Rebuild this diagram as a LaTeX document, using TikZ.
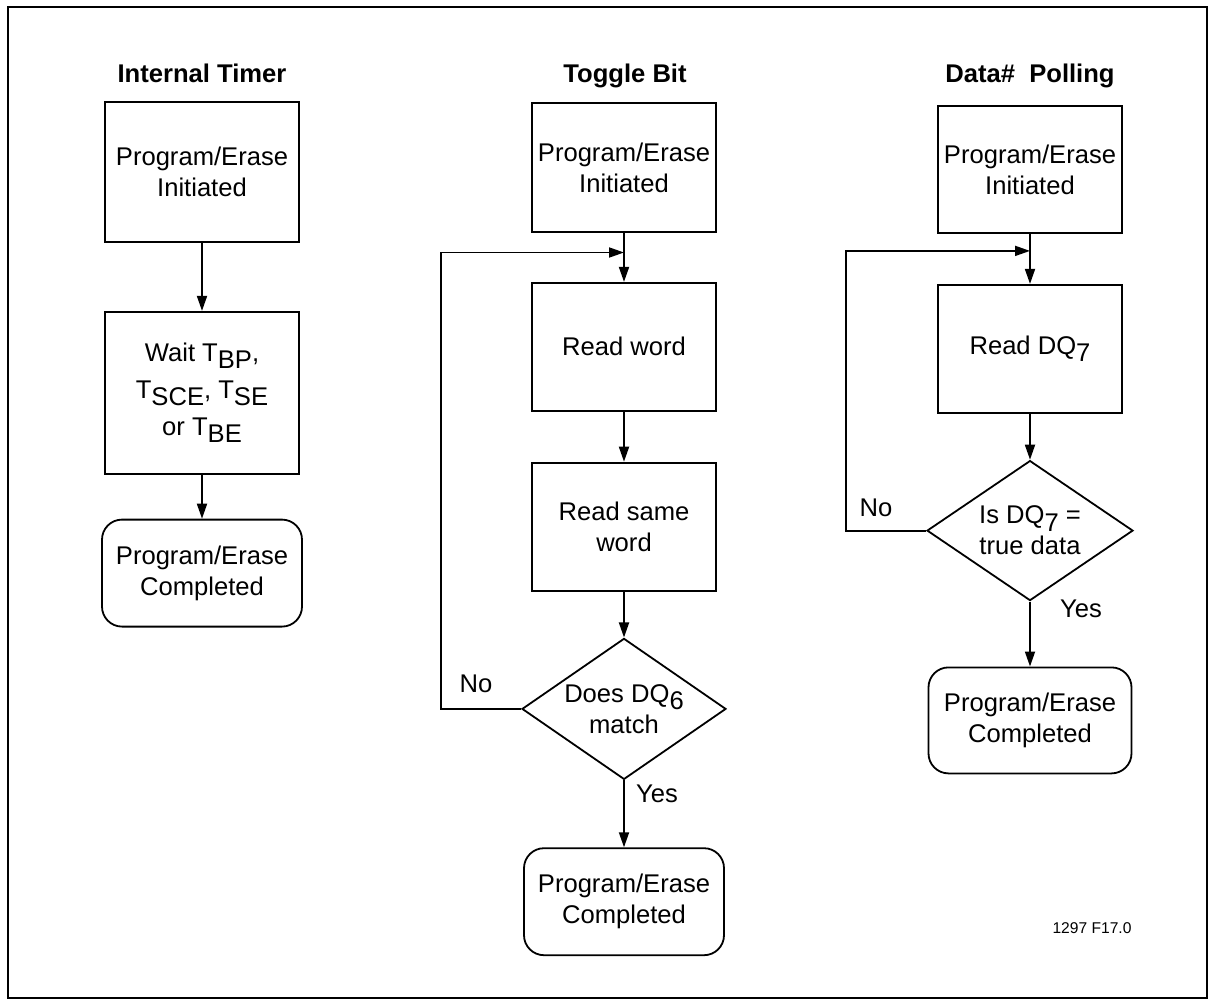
\documentclass[tikz,border=0pt]{standalone}
\usepackage{fontspec}
\setmainfont{Liberation Sans}
\usetikzlibrary{positioning, arrows.meta, calc, shapes.geometric}

\newcommand{\lsub}[1]{\raisebox{-0.3em}{#1}}

\begin{document}
\begin{tikzpicture}[
    x=1pt, y=-1pt,
    line width=1.8pt,
    >={Triangle[length=15pt, width=10pt]},
    font=\fontsize{25.6pt}{31pt}\selectfont,
    box/.style={draw, align=center, inner sep=2pt, minimum width=184pt, minimum height=128pt},
    endbox/.style={draw, align=center, inner sep=2pt, rounded corners=20pt, minimum width=200pt, minimum height=107pt},
    decision/.style={draw, diamond, align=center, inner sep=0pt, aspect=1.45, minimum width=204pt, minimum height=141pt},
    heading/.style={anchor=base, font=\fontsize{25.6pt}{31pt}\selectfont\bfseries}
]{
    \useasboundingbox (0,0) rectangle (1213,1003);
    \draw[line width=1.4pt] (8,7) rectangle (1207,998);

    % Internal Timer
    \node[heading](it_title) at (202,83){Internal Timer};
    \node[box, minimum width=194pt, minimum height=140pt](it_init) at (202,172){Program/Erase\\Initiated};
    \node[box, minimum width=194pt, minimum height=162pt, font=\fontsize{25.6pt}{37pt}\selectfont, below=68pt of it_init.south](it_wait){Wait T\lsub{BP},\\T\lsub{SCE}, T\lsub{SE}\\or T\lsub{BE}};
    \node[endbox, below=44pt of it_wait.south](it_done){Program/Erase\\Completed};

    \draw[->](it_init) -- (it_wait);
    \draw[->](it_wait) -- (it_done);

    % Toggle Bit
    \node[heading](tb_title) at (625,83){Toggle Bit};
    \node[box, minimum height=129pt](tb_init) at (624,167.5){Program/Erase\\Initiated};
    \node[box, below=49pt of tb_init.south](tb_read){Read word};
    \node[box, below=50pt of tb_read.south](tb_same){Read same\\word};
    \node[decision, below=46pt of tb_same.south](tb_match){Does DQ\lsub{6}\\match};
    \node[endbox, below=67pt of tb_match.south](tb_done){Program/Erase\\Completed};
    \coordinate(tb_join) at ($(tb_init.south)!0.4!(tb_read.north)$);

    \draw[->](tb_init) -- (tb_read);
    \draw[->](tb_read) -- (tb_same);
    \draw[->](tb_same) -- (tb_match);
    \draw[->](tb_match) -- (tb_done) node[pos=0.2, right, xshift=8pt]{Yes};
    \draw[->](tb_match.west) -- ++(-80,0) node[midway, above, xshift=-5pt, yshift=12pt]{No} |- (tb_join);

    % Data# Polling
    \node[heading](dp_title) at (1030,83){Data\#\ \ Polling};
    \node[box, minimum height=127pt](dp_init) at (1030,169.5){Program/Erase\\Initiated};
    \node[box, below=50pt of dp_init.south](dp_read){Read DQ\lsub{7}};
    \node[decision, minimum width=206pt, minimum height=140pt, below=46pt of dp_read.south](dp_match){Is DQ\lsub{7} =\\true data};
    \node[endbox, minimum width=203pt, minimum height=106pt, below=65pt of dp_match.south](dp_done){Program/Erase\\Completed};
    \coordinate(dp_join) at ($(dp_init.south)!0.34!(dp_read.north)$);

    \draw[->](dp_init) -- (dp_read);
    \draw[->](dp_read) -- (dp_match);
    \draw[->](dp_match) -- (dp_done) node[pos=0.12, right, xshift=26pt]{Yes};
    \draw[->](dp_match.west) -- ++(-80,0) node[midway, above, xshift=-10pt, yshift=10pt]{No} |- (dp_join);

    \node[font=\fontsize{15.6pt}{18pt}\selectfont](fig_id) at (1092,928){1297 F17.0};
}
\end{tikzpicture}
\end{document}
